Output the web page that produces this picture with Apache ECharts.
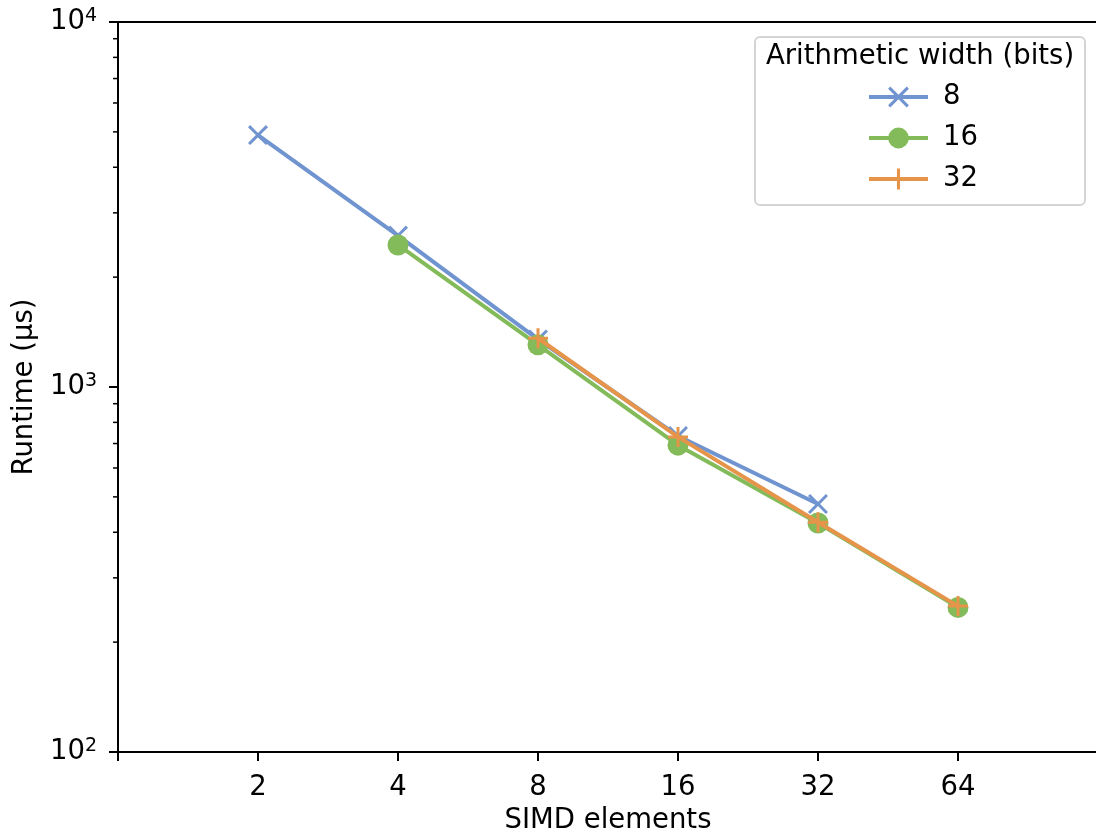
<!DOCTYPE html>
<html>
<head>
<meta charset="utf-8">
<script src="https://cdn.jsdelivr.net/npm/echarts@6/dist/echarts.min.js"></script>
<style>
  html, body { margin: 0; padding: 0; background: #fff; }
  #chart { width: 1096px; height: 834px; }
</style>
</head>
<body>
<div id="chart"></div>
<script>
// SIMD elements (x) and runtime in µs (y) for each arithmetic width
var simd8 = [2, 4, 8, 16, 32];
var runtime8 = [4900, 2600, 1350, 734, 478];
var simd16 = [4, 8, 16, 32, 64];
var runtime16 = [2450, 1305, 693, 424, 249];
var simd32 = [8, 16, 32, 64];
var runtime32 = [1360, 730, 426, 251];
var xTicks = [2, 4, 8, 16, 32, 64];
var seriesNames = ['8', '16', '32'];

var FONT = 'DejaVu Sans';
var FS = 27.5;
var BLUE = '#7094cf', GREEN = '#84bb5a', ORANGE = '#e5944a';

// marker shapes like matplotlib's 'x' and '+'
var xMark = 'path://M0,2.1 L2.1,0 L10,7.9 L17.9,0 L20,2.1 L12.1,10 L20,17.9 L17.9,20 L10,12.1 L2.1,20 L0,17.9 L7.9,10 Z';
var plusMark = 'path://M8.5,0 H11.5 V8.5 H20 V11.5 H11.5 V20 H8.5 V11.5 H0 V8.5 H8.5 Z';

function pairs(xs, ys) {
    return xs.map(function (x, i) { return [x, ys[i]]; });
}

var chart = echarts.init(document.getElementById('chart'));

var option = {
    animation: false,
    backgroundColor: '#fff',
    textStyle: { fontFamily: FONT },
    grid: { left: 118, right: -2, top: 22, bottom: 82, outerBoundsMode: 'none' },
    xAxis: [{
        type: 'log',
        logBase: 2,
        min: 1,
        max: 128,
        name: 'SIMD elements',
        nameLocation: 'middle',
        nameGap: 53,
        nameTextStyle: { fontSize: FS, color: '#000', fontFamily: FONT },
        axisLine: { lineStyle: { color: '#000', width: 2 } },
        axisTick: { length: 9, lineStyle: { color: '#000', width: 2 } },
        axisLabel: {
            fontSize: FS, color: '#000', margin: 22, fontFamily: FONT,
            formatter: function (v) {
                return xTicks.indexOf(Math.round(v)) >= 0 ? String(Math.round(v)) : '';
            }
        },
        splitLine: { show: false }
    }, {
        // top spine
        type: 'log', logBase: 2, min: 1, max: 128, position: 'top',
        axisLine: { lineStyle: { color: '#000', width: 2 } },
        axisTick: { show: false }, axisLabel: { show: false }, splitLine: { show: false }
    }],
    yAxis: {
        type: 'log',
        logBase: 10,
        min: 100,
        max: 10000,
        name: 'Runtime (µs)',
        nameLocation: 'middle',
        nameGap: 78,
        nameTextStyle: { fontSize: FS, color: '#000', fontFamily: FONT },
        axisLine: { lineStyle: { color: '#000', width: 2 } },
        axisTick: { length: 9, lineStyle: { color: '#000', width: 2 } },
        axisLabel: {
            margin: 21,
            formatter: function (v) {
                return '{b|10}{s|' + Math.round(Math.log10(v)) + '}';
            },
            rich: {
                b: { fontSize: FS, color: '#000', fontFamily: FONT },
                s: { fontSize: 19, color: '#000', fontFamily: FONT, verticalAlign: 'top', padding: [0, 0, 12, 0] }
            }
        },
        splitLine: { show: false }
    },
    legend: {
        orient: 'vertical',
        left: 862,
        top: 78,
        itemWidth: 59,
        itemHeight: 26,
        itemGap: 13,
        data: seriesNames,
        z: 10,
        lineStyle: { width: 4 },
        textStyle: { fontSize: FS, color: '#000', fontFamily: FONT, padding: [0, 0, 0, 10] }
    },
    series: [{
        name: seriesNames[0],
        type: 'line',
        data: pairs(simd8, runtime8),
        color: BLUE,
        symbol: xMark,
        symbolSize: 20,
        lineStyle: { width: 4, color: BLUE },
        itemStyle: { color: BLUE },
        z: 2
    }, {
        name: seriesNames[1],
        type: 'line',
        data: pairs(simd16, runtime16),
        color: GREEN,
        symbol: 'circle',
        symbolSize: 21,
        lineStyle: { width: 4, color: GREEN },
        itemStyle: { color: GREEN },
        z: 3
    }, {
        name: seriesNames[2],
        type: 'line',
        data: pairs(simd32, runtime32),
        color: ORANGE,
        symbol: plusMark,
        symbolSize: 20,
        lineStyle: { width: 4, color: ORANGE },
        itemStyle: { color: ORANGE },
        z: 4
    }]
};

chart.setOption(option);

// minor ticks at 2..9 of every decade, placed with the axis scale
var minor = [];
[100, 1000].forEach(function (dec) {
    for (var k = 2; k <= 9; k++) {
        var py = chart.convertToPixel({ yAxisIndex: 0 }, dec * k);
        minor.push({
            type: 'line',
            shape: { x1: 113, y1: py, x2: 118, y2: py },
            style: { stroke: '#000', lineWidth: 1.5 },
            silent: true
        });
    }
});

chart.setOption({
    graphic: minor.concat([{
        type: 'rect',
        shape: { x: 755, y: 37, width: 330, height: 168, r: 5 },
        style: { fill: 'rgba(255,255,255,0.8)', stroke: '#d4d4d4', lineWidth: 2 },
        z: 0
    }, {
        type: 'text',
        left: 766,
        top: 43,
        style: { text: 'Arithmetic width (bits)', fontSize: FS, fontFamily: FONT, fill: '#000' },
        z: 1
    }])
});
</script>
</body>
</html>
